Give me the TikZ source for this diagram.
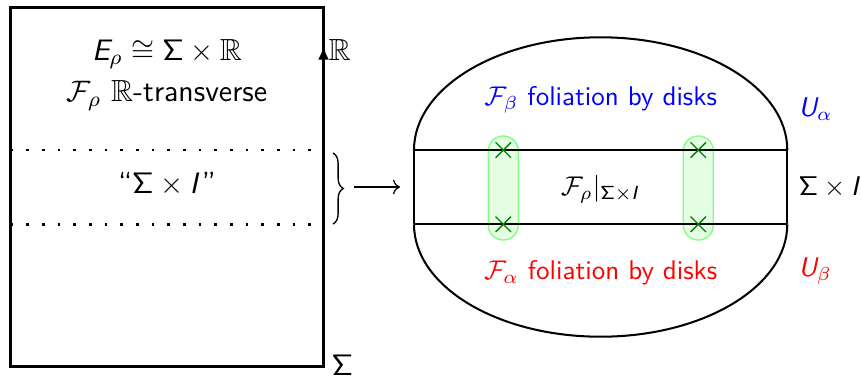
\documentclass[tikz,border=0pt]{standalone}
\usepackage{amssymb}
\DeclareMathAlphabet{\mathsfit}{OT1}{cmss}{m}{sl}
\newcommand{\sSig}{\mathsf{\Sigma}}
\usetikzlibrary{arrows.meta,decorations.pathreplacing,shapes.misc}
\begin{document}
\begin{tikzpicture}[x=0.37pt,y=0.37pt,
  every node/.style={font=\sffamily, inner sep=0pt},
  bigtext/.style={font=\sffamily\fontsize{11.3}{13.6}\selectfont},
  frame/.style={line width=1.1pt},
  dotline/.style={line width=1pt, dash pattern=on 1pt off 4.8pt},
  band/.style={line width=0.85pt},
  dome/.style={line width=0.75pt},
  capsule/.style={draw=green!50, fill=green!10, line width=0.5pt, rounded corners=5.5pt},
  xmark/.style={cross out, draw=green!50!black, line width=0.5pt, minimum size=5.2pt},
]
\useasboundingbox (0,0) rectangle (861,378);
% left block
\coordinate (LL) at (10.5,11.3);
\coordinate (UR) at (323.5,370.5);
\coordinate (rb) at (323.5,11.3);
\coordinate (rt) at (323.5,332);
\draw[frame] (LL) rectangle (UR);
\draw[frame,-{Latex[length=5pt,width=4pt]}] (rb) -- (rt);
\coordinate (d1l) at (10.5,228);
\coordinate (d1r) at (323.5,228);
\coordinate (d2l) at (10.5,153.7);
\coordinate (d2r) at (323.5,153.7);
\draw[dotline] (d1l) -- (d1r);
\draw[dotline] (d2l) -- (d2r);
\node[bigtext,anchor=base] (t1) at (167,318) {$\mathsfit{E}_\rho \cong \sSig\times\mathbb{R}$};
\node[bigtext,anchor=base] (t2) at (167,276.3) {$\mathcal{F}_\rho$ $\mathbb{R}$-transverse};
\node[bigtext,anchor=base] (t3) at (167,184.5) {``$\sSig\times \mathsfit{I}$''};
\node[bigtext,anchor=base west] (Rlab) at (328,318) {$\mathbb{R}$};
\node[bigtext,anchor=base west] (Slab) at (331,3) {$\sSig$};
% brace and arrow
\coordinate (bt) at (333,225);
\coordinate (bb) at (333,154);
\draw[line width=0.5pt,decorate,decoration={brace,amplitude=3.8pt}] (bt) -- (bb);
\coordinate (a1) at (354,191);
\coordinate (a2) at (400,191);
\draw[line width=0.45pt,->] (a1) -- (a2);
% right block
\draw[capsule] (488.3,138) rectangle (518.3,242);
\draw[capsule] (683.3,138) rectangle (713.3,242);
\coordinate (bTL) at (414,228);
\coordinate (bTR) at (787.3,228);
\coordinate (bBL) at (414,153.7);
\coordinate (bBR) at (787.3,153.7);
\draw[band] (bTL) -- (bTR);
\draw[band] (bBL) -- (bBR);
\draw[band] (bTL) -- (bBL);
\draw[band] (bTR) -- (bBR);
\draw[dome] (bTL) arc[start angle=180,end angle=0,x radius=69.06pt,y radius=41.7pt];
\draw[dome] (bBL) arc[start angle=180,end angle=360,x radius=69.06pt,y radius=41.59pt];
\node[xmark] (x1) at (503.3,228) {};
\node[xmark] (x2) at (503.3,153.7) {};
\node[xmark] (x3) at (698.3,228) {};
\node[xmark] (x4) at (698.3,153.7) {};
\node[anchor=base, text=blue] (fb) at (600.7,273) {$\mathcal{F}_\beta$ foliation by disks};
\node[anchor=base west, text=blue] (ua) at (798,262) {$\mathsfit{U}_\alpha$};
\node[anchor=base] (fr) at (601,183) {$\mathcal{F}_\rho|_{\sSig\times \mathsfit{I}}$};
\node[anchor=base west] (si) at (798,183) {$\sSig\times \mathsfit{I}$};
\node[anchor=base, text=red] (fa) at (600.7,98.7) {$\mathcal{F}_\alpha$ foliation by disks};
\node[anchor=base west, text=red] (ub) at (798,101.3) {$\mathsfit{U}_\beta$};
\end{tikzpicture}
\end{document}
